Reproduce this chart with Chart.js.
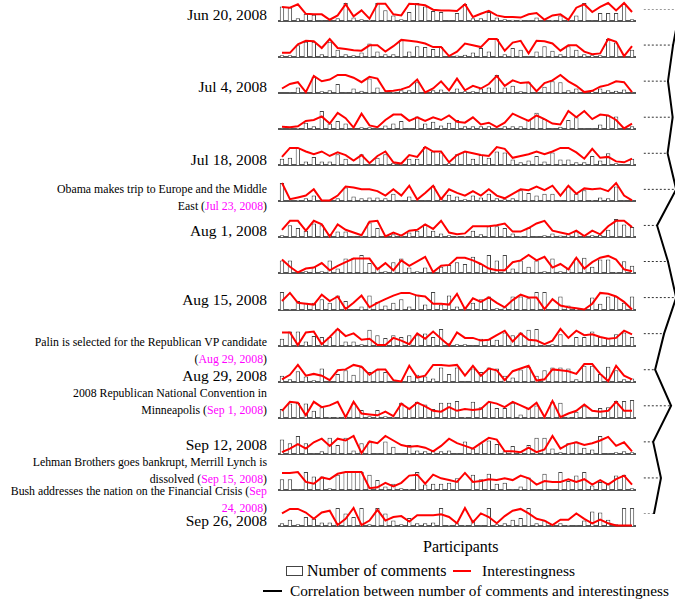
<!DOCTYPE html>
<html>
<head>
<meta charset="utf-8">
<script src="https://cdn.jsdelivr.net/npm/chart.js@4.4.1/dist/chart.umd.min.js"></script>
<style>
  body { margin: 0; width: 675px; height: 601px; position: relative; background: #fff; overflow: hidden; font-family: "Liberation Serif", "Times New Roman", serif; color: #000; }
  .row { position: absolute; left: 278px; }
  .lbl { position: absolute; right: 408px; text-align: right; white-space: nowrap; transform: translateY(-50%); }
  .date { font-size: 15.5px; }
  .event { font-size: 11.8px; line-height: 17px; }
  .event span { color: #ff00ff; }
  .txt { position: absolute; font-size: 16px; white-space: nowrap; transform: translateY(-50%); }
  #corr { position: absolute; left: 636px; top: 9px; }
</style>
</head>
<body>
<div id="rows"></div>

<div class="lbl date" style="top:15px">Jun 20, 2008</div>
<div class="lbl date" style="top:87px">Jul 4, 2008</div>
<div class="lbl date" style="top:160px">Jul 18, 2008</div>
<div class="lbl event" style="top:198px">Obama makes trip to Europe and the Middle<br>East (<span>Jul 23, 2008</span>)</div>
<div class="lbl date" style="top:231px">Aug 1, 2008</div>
<div class="lbl date" style="top:300px">Aug 15, 2008</div>
<div class="lbl event" style="top:351px">Palin is selected for the Republican VP candidate<br>(<span>Aug 29, 2008</span>)</div>
<div class="lbl date" style="top:376px">Aug 29, 2008</div>
<div class="lbl event" style="top:402px">2008 Republican National Convention in<br>Minneapolis (<span>Sep 1, 2008</span>)</div>
<div class="lbl date" style="top:445px">Sep 12, 2008</div>
<div class="lbl event" style="top:471px">Lehman Brothers goes bankrupt, Merrill Lynch is<br>dissolved (<span>Sep 15, 2008</span>)</div>
<div class="lbl event" style="top:500px">Bush addresses the nation on the Financial Crisis (<span>Sep</span><br><span>24, 2008</span>)</div>
<div class="lbl date" style="top:521px">Sep 26, 2008</div>

<canvas id="corr" width="39" height="505"></canvas>

<div class="txt" style="left:423px;top:547px">Participants</div>
<div style="position:absolute;left:286px;top:566px;width:15px;height:8px;border:1px solid #444;background:#fff"></div>
<div class="txt" style="left:307px;top:571px">Number of comments</div>
<div style="position:absolute;left:453px;top:570px;width:18px;height:2px;background:#ff0000"></div>
<div class="txt" style="left:482px;top:571px;font-size:15.5px">Interestingness</div>
<div style="position:absolute;left:263px;top:590px;width:19px;height:2px;background:#000"></div>
<div class="txt" style="left:290px;top:591px;font-size:15.3px">Correlation between number of comments and interestingness</div>

<script>
// participants on the x axis (one bar per participant)
const participants = Array.from({ length: 45 }, (_, i) => "P" + (i + 1));

// number of comments / interestingness per week
const commentsJun20 = [8,7.5,1.5,4,3.5,0.3,0,1.5,10,2,1,0.5,10,6,3,1,5,10,8,5.5,5,0.3,4.5,9.5,1.5,1.5,5,2,1,0.7,0.7,0.3,2,0,0.5,3,0.5,3,10,0.3,4.5,4.5,4.5,9.5,1];
const interestJun20 = [7.8,7.4,9.3,4,3.7,3.7,0.7,3.1,9.3,2.6,5.9,1.3,9.6,9.6,3.7,3.1,9.6,9.3,8.7,6.3,5.9,5.9,5.6,9.3,2.2,4,5.6,3.1,2.2,2.2,1.9,3.7,4.4,0.7,3.1,3.7,0.7,7.4,9.3,5,7.8,10,5.9,10,5];
const commentsJun27 = [1,1,6.5,8.5,8.5,1.5,8.5,4,1.5,1,2.5,7.5,3,1.5,1.5,9.5,3,6,5.5,4.5,5.5,0.2,0.8,1.3,2.5,5,3,10,1.5,5,4,0.3,3,6,3.5,1.5,6,4,1.5,1,1,10,8,0.3,4];
const interestJun27 = [2.3,2.3,7,9,8.7,5,10,5,4.5,3.8,3.5,6.5,6.5,3,6,9.5,9,8.5,7.5,5.5,5.5,0.5,3,7.5,6.5,5.5,10,10,3.5,8,9,2,9,8.7,7.5,3.5,6.5,6.5,3,1.5,2,10,8.5,0.5,6];
const commentsJul04 = [0.1,0.3,3,0.3,9,1,1.5,5,0.3,2.5,1.2,8,3,0.3,0.5,1.5,1.5,6,0.3,1.5,2,0.5,2.5,1,1,2.5,3,10,3,4,1,6,0.3,3.5,6.5,6,1.5,2.5,0.3,1,2.5,1.5,1.3,2,0.3];
const interestJul04 = [2.5,5,6,0.5,9.5,6.5,7.5,10,10,8.5,6,9,8,1,1.2,2,3.5,7.5,0.3,2.5,6.5,1.5,8,1.5,4,2.5,5,9.5,4,7,5.5,6,1,5.5,7,10,6.5,4,0.5,1.2,3.5,4.5,6.5,6,0.5];
const commentsJul11 = [0.3,0.3,0.5,3.5,1.5,10,3,4.5,3,0.3,1,1,0.3,2,3,4.5,0.3,7,3,4,2,3.5,5,1.5,1.5,1.5,1.5,0.3,1.5,1.5,1.5,5,9,5.5,0.3,1.2,5,6.5,0.3,0.3,2.5,7.5,7,0.3,1.5];
const interestJul11 = [1.2,1,1.5,4.5,5,7,3,9,6,0.8,8.5,2,1,5,8,8,4.5,6.5,4.5,6.5,5,7.5,4,3.5,6.5,2.5,3.5,1,3.5,8.5,6.5,4.5,7.5,5.5,3,2.5,10,6.5,10,5.5,8,7.5,5,0.3,3];
const commentsJul18 = [3.5,4,9.5,2,4.5,2,2,6,3.5,0.3,6,0.3,4,6,1.2,0.5,3.5,3.5,10,7.5,7,1,6,7.5,3.5,5.5,4,7.5,7,3,1.5,2.5,5,2,7,3,3,1.5,1.5,5,2.5,6.5,1,0.3,3.5];
const interestJul18 = [4.5,9.5,9.5,7.5,6,7.5,5,7,5.5,2.5,5.5,1,5,7.5,1.5,0.8,5.5,4.5,10,7.5,7.5,1.5,5.5,7.5,6.5,5.5,5,10,9,4,5,6,7.5,6,7.5,9.5,9.5,7,3.5,9,4,4.5,2,1.5,3.5];
const commentsJul25 = [10,0.3,0.5,1.5,3,0.5,0.3,1.5,7.5,2.5,1.5,2,2,1.5,4,0.3,2.5,0.3,0.3,8.5,1.5,3.5,2.5,1,3,2,4,1.5,1,1.5,6,4.5,3,4,4,0.3,8,4,6,0.5,2,1.5,8,0.3,0.3];
const interestJul25 = [10,1,2,3,6.5,0.3,0.3,3,8,7.5,6.5,6.5,5.5,3,6.5,3,8.5,0.8,4.5,8.5,1,6.5,4.5,3,5.5,3,6.5,3,1.5,4,6.5,6,8,6,8.5,3,8.5,4,7,6.5,7,5.5,10,3,0.3];
const commentsAug01 = [1,6.5,5,3.5,7.5,6.5,1.5,3,3,0.3,0.5,8,5,0.3,1.5,0.5,2.5,3.5,7,3.5,2,1,0.5,0.5,3.5,1.5,6,6,5,2,0.5,5,0.3,1,2,0.8,1.5,3,0.5,1,1.2,4,10,7,5.5];
const interestAug01 = [4,9,9,3.5,9,7,0.3,7,4,2.5,1,8.5,9,0.3,2.5,0.8,3.5,4,7,4.5,9,2.5,1.5,2,6,6,6,6.5,7.5,3,3,5,7.5,9,3.5,2.5,1.5,3.5,0.5,3.5,1.5,6,9,9,5.5];
const commentsAug08 = [7,7,0.3,1,3.5,1,7,2.5,8,8.5,10,5.5,3,1,6,8,3,1,3,0.3,3.5,4.5,6,5,9,5,10,7,10,2.5,7,3.5,7,1,8,1,2.5,8,8.5,3.5,7.5,7.5,0.5,6.5,4];
const interestAug08 = [7.5,3.5,0.3,2.5,3,5.5,1.5,4,6,8,8,8,2,5.5,1.5,7,4,6.5,9,0.5,4,4.5,8.5,8.5,7,5,2.5,1.5,1.5,6,7,10,7,9,3,5,2,8.5,2.5,6,8.5,9.5,7.5,2,1];
const commentsAug15 = [10,0.5,5,4,4,6,4,8,5,0.3,2,8,4.5,2.5,4,6,2,8.5,3,10,3,8,2,1,4,6,7.5,1,1.5,7.5,7.5,6.5,10,10,0.3,7.5,2.5,1,0.5,7,3.5,7.5,7.5,4,7.5];
const interestAug15 = [5,9.5,4,3.5,3,8.5,5,7.5,0.5,4,8,1.5,4,6,8,9.5,9.5,8,7.5,3.5,3.5,3,9,0.5,6.5,4.5,7,4,1.5,5.5,8.5,7,7,0.5,6,2.5,1.5,1,0.3,3.5,9.5,9,7.5,4.5,0.3];
const commentsAug22 = [4,8,8,2.5,5.5,5,5,9.5,2.5,2.5,1,9,6,4.5,6,5,6,6,7,5,9.5,1.5,1,1,0.3,4,4,3.5,7.5,6,7.5,9,9.5,0.5,1,6.5,0.3,5,5,8,5,4.5,6.5,7.5,5];
const interestAug22 = [7.5,7.5,0.5,7.5,8,1,5,9.5,5.5,7,3.5,4,0.5,0.5,4.5,3,1,7,4,8,4,0.3,7.5,4.5,4.5,3,3.5,6,8.5,2.5,7,3.5,3,1,3,9.5,4.5,8.5,6,6.5,5,4,4.5,8.5,6.5];
const commentsAug29 = [3.5,1.5,6,3,1,7.5,0.3,4.5,6.5,4,8.5,5.5,7,5.5,0.3,0.3,3.5,4,3,2,8,4.5,8,0.3,7.5,5.5,8,7.5,3.5,2.5,7,8.5,3.5,6.5,8,8,7.5,1.5,9,9,4.5,8.5,6.5,1.5,2];
const interestAug29 = [1.5,4,9.5,3.5,4.5,3.5,1,6.5,7,9.5,8.5,4,7,7,1,0.3,9,2.5,3.5,9.5,9.5,9,9.5,3.5,9,3.5,7.5,6.5,1,6,7.5,9,0.8,1.5,7,6.5,6,4.5,10,10,4.5,0.5,9,3.5,1.5];
const commentsSep05 = [5,8,8.5,8,4,6,0.5,0.5,1,8,4.5,1,4.5,1,0.5,8.5,5.5,9,7.5,5,8.5,8.5,9.5,0.5,9,6,9,5.5,5.5,8.5,2,5.5,7,0.5,9,8.5,0.5,3.5,6.5,0.3,5.5,6,9.5,9.5,10];
const interestSep05 = [4,9,8.5,1.5,9,6,7,9,0.5,9,2.5,2,1.5,3.5,1,8,5,8.5,6.5,4,3.5,6,4,5,4.5,5,9,8,6,9,7,5,8.5,0.5,9.5,0.5,2.5,4,7.5,4,3.5,4,9,4,4];
const commentsSep12 = [8,6,10,6,0.3,1.5,9,5,9,2,6,7,0.3,7,4,0.3,5,2,1.5,2,1.5,2,0.3,7,3,6,7.5,5.5,1.5,4.5,1,5,9,9,3,1,6,7,3.5,2.5,10,0.3,1,1.5,1];
const interestSep12 = [1,3,5.5,3,6.5,8.5,4.5,8.5,7.5,10,0.5,7,6,10,7.5,5,4,4.5,3.5,1.5,4.5,8.5,6,4.5,3,6,9,8,1.5,1.5,1,3.5,1,2.5,10,3,5.5,6.5,5,6,7.5,9.5,4.5,6.5,1.5];
const commentsSep19 = [6,6,0.3,10,7.5,7.5,1,8.5,10,10,10,8.5,5.5,2,3.5,1,0.5,10,3,3.5,3.5,4,6.5,0,8.5,6,9,3.5,4,0.3,2,7,0.3,9,0.3,10,5,8,10,2.5,4.5,4,8,8.5,1];
const interestSep19 = [9.5,9.5,10,4.5,3.5,7,6,9,10,10,10,1,1.5,4,2,4,8,8.5,3.5,8.5,6.5,5.5,4.5,9.5,4.5,5,6,5.5,6.5,5.5,8,6.5,3,5,4.5,4.5,6,4.5,6,3,5.5,3,6,8,3];
const commentsSep26 = [1.5,3.5,1,5,4,2,2,10,7,5,10,1,10,7,3,1,4.5,1.5,1.5,2,10,0.5,1.5,0.5,3.5,0.3,10,1,1.5,3.5,4.5,10,1.5,3,0.5,1.5,0.5,0.3,3,8,7.5,3.5,1,10,10];
const interestSep26 = [7,9.5,9.5,7.5,4,7.5,8.5,0.5,4,10,0.5,3,9,3,5,5.5,2.5,6,6,6,6.5,5,1.5,10,2,7,5,1.5,5.5,8.5,9.5,7,4,3,0.5,3.5,3.5,7,4,1.5,3.5,1.5,0.3,0.3,0.3];

// correlation between comments and interestingness, one value per week
const correlation = [1.13, 0.95, 0.82, 0.94, 0.81, 1.03, 0.54, 0.82, 1.03, 0.72, 0.49, 0.9, 0.44, 0.64, 0.46];

const weeks = [
  [commentsJun20, interestJun20], [commentsJun27, interestJun27], [commentsJul04, interestJul04],
  [commentsJul11, interestJul11], [commentsJul18, interestJul18], [commentsJul25, interestJul25],
  [commentsAug01, interestAug01], [commentsAug08, interestAug08], [commentsAug15, interestAug15],
  [commentsAug22, interestAug22], [commentsAug29, interestAug29], [commentsSep05, interestSep05],
  [commentsSep12, interestSep12], [commentsSep19, interestSep19], [commentsSep26, interestSep26],
];

const ROW_STEP = 36.07;
const FIRST_BASELINE = 21;

// one small chart per week
weeks.forEach(([comments, interest], i) => {
  const canvas = document.createElement("canvas");
  canvas.className = "row";
  canvas.width = 358;
  canvas.height = 22;
  canvas.style.top = Math.round(FIRST_BASELINE + ROW_STEP * i - 20) + "px";
  document.getElementById("rows").appendChild(canvas);

  new Chart(canvas, {
    type: "bar",
    data: {
      labels: participants,
      datasets: [
        {
          type: "line",
          data: interest,
          borderColor: "#ff0000",
          borderWidth: 2,
          pointRadius: 0,
          tension: 0,
          clip: false,
          order: 0,
        },
        {
          data: comments,
          backgroundColor: "#ffffff",
          borderColor: "#444444",
          borderWidth: 1,
          categoryPercentage: 1,
          barPercentage: 0.55,
          order: 1,
        },
      ],
    },
    options: {
      responsive: false,
      animation: false,
      events: [],
      layout: { padding: { top: 2, bottom: 2, left: 0, right: 0 } },
      plugins: { legend: { display: false }, tooltip: { enabled: false } },
      scales: {
        x: {
          ticks: { display: false },
          grid: { display: false, drawTicks: false },
          border: { display: true, color: "#555555", width: 2 },
        },
        y: { display: false, min: 0, max: 10 },
      },
    },
  });
});

// correlation line on the right with dotted leaders
const LEADER_START = 0.2;
const leaders = correlation.map((v, i) => ({
  data: [{ x: LEADER_START, y: i }, { x: v, y: i }],
  showLine: true,
  borderColor: "#333333",
  borderWidth: 1,
  borderDash: [2, 2],
  pointRadius: 0,
  clip: false,
}));

new Chart(document.getElementById("corr"), {
  type: "scatter",
  data: {
    datasets: [
      {
        data: correlation.map((v, i) => ({ x: v, y: i })),
        showLine: true,
        borderColor: "#000000",
        borderWidth: 2,
        pointRadius: 0,
        clip: false,
      },
      ...leaders,
    ],
  },
  options: {
    responsive: false,
    animation: false,
    events: [],
    layout: { padding: 0 },
    plugins: { legend: { display: false }, tooltip: { enabled: false } },
    scales: {
      x: { display: false, min: 0, max: 1 },
      y: { display: false, min: 0, max: 14, reverse: true },
    },
  },
});
</script>
</body>
</html>
